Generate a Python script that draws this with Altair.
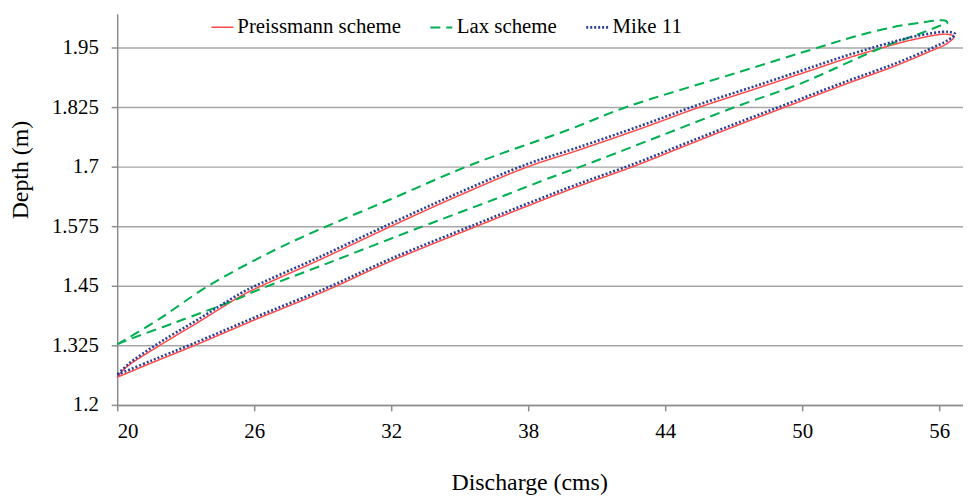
import altair as alt
import pandas as pd

series_names = ["Preissmann scheme", "Lax scheme", "Mike 11"]

# Preissmann scheme: rising limb (lower branch) then falling limb (upper branch)
pre_q = [20.0, 21.5, 23.3, 26.0, 29.2, 32.0, 35.7, 38.0, 40.1, 42.7, 45.0, 47.5, 49.7, 52.0, 54.0, 55.5, 56.4, 56.65,
         56.3, 55.0, 54.0, 52.0, 50.5, 48.0, 45.4, 43.0, 40.1, 38.0, 35.0, 32.0, 28.8, 26.1, 25.4, 23.5, 21.8, 20.4, 20.0]
pre_h = [1.258, 1.288, 1.323, 1.378, 1.441, 1.502, 1.574, 1.618, 1.657, 1.702, 1.746, 1.793, 1.833, 1.875, 1.910, 1.940, 1.960, 1.973,
         1.978, 1.968, 1.956, 1.928, 1.904, 1.864, 1.823, 1.781, 1.733, 1.700, 1.640, 1.575, 1.503, 1.445, 1.428, 1.372, 1.323, 1.279, 1.258]

# Lax scheme
lax_q = [20.0, 20.5, 22.6, 25.2, 26.0, 29.2, 33.4, 36.5, 39.2, 40.3, 43.5, 47.0, 49.7, 50.5, 53.6, 55.2, 56.0, 56.35,
         56.3, 56.0, 55.3, 54.0, 52.3, 50.7, 47.0, 42.3, 39.8, 35.4, 32.0, 28.8, 26.9, 24.0, 21.8, 20.0]
lax_h = [1.327, 1.337, 1.374, 1.421, 1.438, 1.497, 1.575, 1.631, 1.681, 1.700, 1.759, 1.824, 1.870, 1.886, 1.952, 1.980, 1.995, 2.001,
         2.006, 2.007, 2.003, 1.993, 1.973, 1.950, 1.895, 1.825, 1.778, 1.702, 1.632, 1.567, 1.525, 1.450, 1.379, 1.327]

# Mike 11
mike_q = [20.0, 21.5, 23.3, 26.0, 29.2, 32.0, 35.7, 38.0, 40.1, 42.7, 45.0, 47.5, 49.7, 52.0, 54.0, 55.5, 56.4, 56.7,
          56.4, 55.0, 54.0, 52.0, 50.5, 48.0, 45.4, 43.0, 40.1, 38.0, 35.0, 32.0, 28.8, 26.1, 25.4, 23.5, 21.8, 20.5, 20.0]
mike_h = [1.263, 1.293, 1.328, 1.383, 1.446, 1.507, 1.579, 1.623, 1.662, 1.707, 1.751, 1.798, 1.838, 1.880, 1.915, 1.945, 1.966, 1.978,
          1.983, 1.974, 1.962, 1.934, 1.910, 1.870, 1.829, 1.787, 1.739, 1.706, 1.646, 1.581, 1.509, 1.451, 1.434, 1.378, 1.329, 1.286, 1.263]

x_ticks = [20, 26, 32, 38, 44, 50, 56]
y_ticks = [1.2, 1.325, 1.45, 1.575, 1.7, 1.825, 1.95]

rows = []
for name, qs, hs in zip(series_names, [pre_q, lax_q, mike_q], [pre_h, lax_h, mike_h]):
    for i, (q, h) in enumerate(zip(qs, hs)):
        rows.append({"series": name, "q": q, "h": h, "i": i})
df = pd.DataFrame(rows)

FONT = "Liberation Serif"
AX = "#8c8c8c"

legend = alt.Legend(
    title=None, orient="none", legendX=94, legendY=1, direction="horizontal",
    labelFont=FONT, labelFontSize=21, labelColor="black", labelOffset=3, labelLimit=0,
    symbolType="stroke", symbolSize=484, symbolStrokeWidth=2,
    columnPadding=24, padding=0,
)

color = alt.Color("series:N", scale=alt.Scale(domain=series_names, range=["#FF4A4A", "#00B050", "#2B3F9A"]), legend=legend)
dash = alt.StrokeDash("series:N", scale=alt.Scale(domain=series_names, range=[[1, 0], [10, 6], [2, 2]]), legend=legend)
width_enc = alt.StrokeWidth("series:N", scale=alt.Scale(domain=series_names, range=[1.5, 2.6, 2.3]), legend=None)

x = alt.X("q:Q", scale=alt.Scale(domain=[20, 20 + 852 / 23], nice=False, zero=False),
          axis=alt.Axis(values=x_ticks, title="Discharge (cms)", grid=False,
                        labelPadding=10, titleX=415, titleY=78, titleBaseline="middle", titleAlign="center"))
y = alt.Y("h:Q", scale=alt.Scale(domain=[1.2, 1.2 + 394 / 480], nice=False, zero=False),
          axis=alt.Axis(values=y_ticks, labelExpr="format(datum.value, '.3~f')", title="Depth (m)", grid=True,
                        gridColor="#a6a6a6", gridWidth=1.5, labelPadding=13,
                        titleX=-97, titleY=157, titleBaseline="middle", titleAlign="center", titleAngle=270))

layers = []
for name in series_names:
    layers.append(
        alt.Chart(df).transform_filter(alt.datum.series == name)
        .mark_line(interpolate="catmull-rom")
        .encode(x=x, y=y, color=color, strokeDash=dash, strokeWidth=width_enc, order="i:Q")
    )

chart = alt.layer(*layers).properties(
    width=852, height=394,
    autosize=alt.AutoSizeParams(type="none"),
    padding={"left": 110, "top": 4, "right": 0, "bottom": 92},
).configure(background="white", font=FONT).configure_view(stroke=None).configure_axis(
    domainColor=AX, tickColor=AX, tickSize=6, domainWidth=1.5, tickWidth=1.5,
    labelFont=FONT, labelFontSize=21, labelColor="black",
    titleFont=FONT, titleFontSize=24, titleFontWeight="normal", titleColor="black",
).configure_legend(labelFont=FONT, labelFontSize=21, labelColor="black", labelLimit=0)

chart.save("out.html", embed_options={"renderer": "svg", "actions": False})
